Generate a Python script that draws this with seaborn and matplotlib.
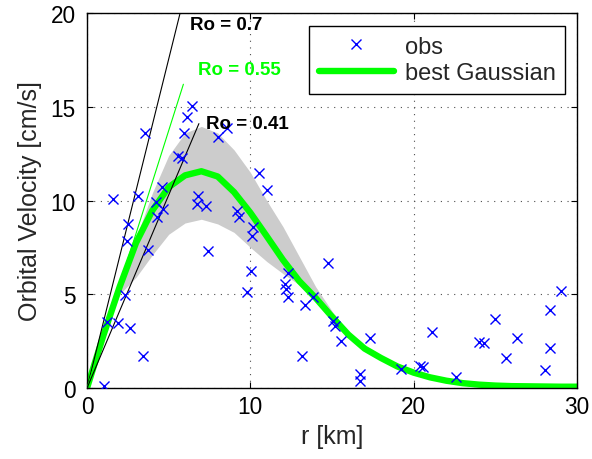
import numpy as np
import pandas as pd
import matplotlib
matplotlib.use("Agg")
import matplotlib.pyplot as plt
import seaborn as sns
from matplotlib.lines import Line2D

# ---------------- data ----------------
obs_r = [6.40, 6.13, 3.55, 5.93, 8.03, 8.54, 5.58, 5.79, 10.52, 10.99,
         1.57, 3.14, 4.57, 4.22, 6.81, 6.71, 7.28, 9.16, 9.32, 10.17,
         10.07, 4.67, 4.30, 2.53, 2.43, 3.75, 7.42, 10.01, 14.74, 12.32,
         9.77, 12.11, 12.21, 12.31, 13.33, 13.84, 2.32, 1.20, 1.91, 2.63,
         3.44, 1.04, 13.19, 15.06, 15.17, 15.58, 17.35, 16.70, 16.74, 19.25,
         20.37, 20.57, 21.14, 22.61, 24.00, 24.28, 24.99, 25.63, 26.32, 28.07,
         28.32, 28.32, 28.99]
obs_v = [15.02, 14.44, 13.60, 13.60, 13.40, 13.87, 12.39, 12.27, 11.47, 10.58,
         10.08, 10.26, 10.70, 9.90, 10.26, 9.81, 9.72, 9.46, 9.10, 8.57,
         8.12, 9.55, 9.10, 8.75, 7.86, 7.38, 7.32, 6.26, 6.67, 6.13,
         5.10, 5.55, 5.28, 4.84, 4.43, 4.84, 4.96, 3.54, 3.47, 3.18,
         1.72, 0.12, 1.69, 3.59, 3.32, 2.52, 2.65, 0.75, 0.39, 1.01,
         1.19, 1.10, 2.97, 0.57, 2.47, 2.40, 3.68, 1.60, 2.67, 0.98,
         2.12, 4.16, 5.19]

fit_r = list(range(0, 31))
fit_v = [0.0, 2.8, 5.4, 7.74, 9.47, 10.71, 11.34, 11.56, 11.28, 10.45,
         9.35, 8.10, 6.83, 5.70, 4.80, 3.80, 2.85, 2.10, 1.60, 1.15,
         0.82, 0.57, 0.39, 0.26, 0.18, 0.13, 0.10, 0.09, 0.08, 0.07, 0.07]

band_r = list(range(0, 19))
band_hi = [0.0, 2.9, 5.6, 8.0, 10.4, 12.4, 13.6, 13.95, 13.6, 12.7,
           11.5, 10.0, 8.6, 7.0, 5.4, 4.1, 3.0, 2.2, 1.65]
band_lo = [0.0, 2.7, 5.0, 5.9, 7.1, 8.2, 8.8, 9.0, 8.75, 8.3,
           7.5, 6.75, 6.1, 5.5, 4.6, 3.6, 2.75, 2.0, 1.55]

ro_values = [0.7, 0.55, 0.41]
ro_labels = ["Ro = 0.7", "Ro = 0.55", "Ro = 0.41"]
ro_end_r = [5.70, 5.90, 6.85]
ro_end_v = [20.0, 16.2, 14.1]
ro_colors = ["black", (0, 1, 0), "black"]
ro_text_r = [6.30, 6.81, 7.28]
ro_text_v = [19.39, 16.97, 14.08]

x_ticks = [0, 10, 20, 30]
y_ticks = [0, 5, 10, 15, 20]

# ---------------- plot ----------------
sns.set_style("ticks")
plt.rcParams["font.family"] = ["Liberation Sans", "DejaVu Sans"]

fig = plt.figure(figsize=(5.92, 4.6), dpi=100)
ax = fig.add_axes([0.147, 0.1543, 0.8277, 0.8153])

ax.fill_between(band_r, band_lo, band_hi, color="#cccccc", lw=0, zorder=1)

fit_df = pd.DataFrame({"r": fit_r, "v": fit_v})
sns.lineplot(data=fit_df, x="r", y="v", ax=ax, color=(0, 1, 0), linewidth=4.6,
             sort=False, estimator=None, zorder=2)

for ro, lab, er, ev, c, tr, tv in zip(ro_values, ro_labels, ro_end_r, ro_end_v,
                                       ro_colors, ro_text_r, ro_text_v):
    sns.lineplot(x=[0, er], y=[0, ev], ax=ax, color=c, linewidth=0.8,
                 sort=False, estimator=None, zorder=3)
    ax.text(tr, tv, lab, color=c, fontsize=13.5, fontweight="bold",
            ha="left", va="center", zorder=5)

obs_df = pd.DataFrame({"r": obs_r, "v": obs_v})
sns.scatterplot(data=obs_df, x="r", y="v", ax=ax, marker="x", color=(0, 0, 1),
                s=52, linewidth=1.0, zorder=4)

ax.set_xlim(0, 30)
ax.set_ylim(0, 20)
ax.set_xticks(x_ticks)
ax.set_yticks(y_ticks)
ax.grid(True, linestyle=(0, (1, 5)), color="0.3", linewidth=0.8)
ax.set_axisbelow(True)
for sp in ax.spines.values():
    sp.set_visible(True)
    sp.set_color("black")
    sp.set_linewidth(1.0)
ax.tick_params(axis="both", direction="in", length=4, width=0.8,
               top=True, right=True, labelsize=16.3, colors="black")
ax.tick_params(axis="x", pad=5)
ax.tick_params(axis="y", pad=8)

ax.set_xlabel("r [km]", fontsize=18, labelpad=4)
ax.set_ylabel("Orbital Velocity [cm/s]", fontsize=18, labelpad=6)

handles = [
    Line2D([], [], marker="x", linestyle="none", color=(0, 0, 1),
           markersize=7, markeredgewidth=1.0),
    Line2D([], [], color=(0, 1, 0), linewidth=4.6),
]
leg = ax.legend(handles, ["obs", "best Gaussian"], loc="upper right",
                bbox_to_anchor=(0.9755, 0.965), bbox_transform=ax.transAxes,
                borderaxespad=0, fontsize=17, handlelength=3.2,
                handletextpad=0.45, labelspacing=0.2, borderpad=0.4,
                frameon=True, fancybox=False, framealpha=1)
leg.get_frame().set_edgecolor("black")
leg.get_frame().set_linewidth(1.0)
leg.set_zorder(10)

fig.savefig("out.png", dpi=100)
